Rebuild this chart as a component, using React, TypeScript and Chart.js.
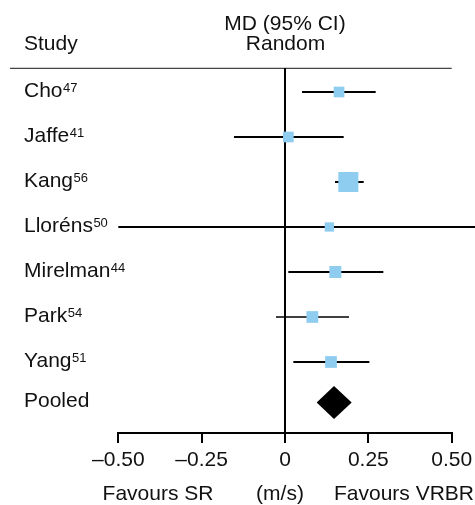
import React, { useEffect, useRef } from "react";
import { Chart, registerables } from "chart.js";

Chart.register(...registerables);

// ---- data ----
const studies = ["Cho", "Jaffe", "Kang", "Lloréns", "Mirelman", "Park", "Yang"];
const refs = ["47", "41", "56", "50", "44", "54", "51"];
const estimates = [0.162, 0.01, 0.19, 0.133, 0.151, 0.082, 0.138];
const lower = [0.051, -0.153, 0.15, -0.5, 0.01, -0.027, 0.025];
const upper = [0.272, 0.176, 0.236, 0.766, 0.295, 0.192, 0.253];
const weights = [10.1, 10.1, 35.3, 7.6, 12.7, 12.1, 12.1];
const pooledLabel = "Pooled";
const pooledEst = 0.147;
const pooledLower = 0.095;
const pooledUpper = 0.2;
const xTickValues = [-0.5, -0.25, 0, 0.25, 0.5];
const xTickLabels = ["–0.50", "–0.25", "0", "0.25", "0.50"];
const headerStudy = "Study";
const headerEffect1 = "MD (95% CI)";
const headerEffect2 = "Random";
const footLeft = "Favours SR";
const footMid = "(m/s)";
const footRight = "Favours VRBR";

// ---- styles ----
const FONT = "'Liberation Sans', Arial, Helvetica, sans-serif";
const TEXT = "#111";
const SQUARE = "#8fcdf0";
const POOLED_ROW = 6.9;
const ciWidths = [2, 2, 2, 2, 2, 1.4, 2];

const sideFor = (w: number) => Math.sqrt(w) * 3.37;

const forestPlugin = {
  id: "forest",
  beforeDatasetsDraw(chart: any) {
    const { ctx, chartArea, scales } = chart;
    const xs = scales.x;
    const ys = scales.y;
    ctx.save();
    // header separator
    ctx.strokeStyle = "#444";
    ctx.lineWidth = 1.3;
    ctx.beginPath();
    ctx.moveTo(10, chartArea.top + 0.3);
    ctx.lineTo(chartArea.right, chartArea.top + 0.3);
    ctx.stroke();
    // zero line
    const x0 = xs.getPixelForValue(0);
    ctx.strokeStyle = "#000";
    ctx.lineWidth = 2;
    ctx.beginPath();
    ctx.moveTo(x0, chartArea.top);
    ctx.lineTo(x0, chartArea.bottom);
    ctx.stroke();
    // CI lines
    studies.forEach((_, i) => {
      const y = ys.getPixelForValue(i);
      ctx.strokeStyle = "#000";
      ctx.lineWidth = ciWidths[i];
      ctx.beginPath();
      ctx.moveTo(xs.getPixelForValue(lower[i]), y);
      ctx.lineTo(xs.getPixelForValue(upper[i]), y);
      ctx.stroke();
    });
    // pooled diamond
    const py = ys.getPixelForValue(POOLED_ROW);
    const h = 16.5;
    ctx.fillStyle = "#000";
    ctx.beginPath();
    ctx.moveTo(xs.getPixelForValue(pooledLower), py);
    ctx.lineTo(xs.getPixelForValue(pooledEst), py - h);
    ctx.lineTo(xs.getPixelForValue(pooledUpper), py);
    ctx.lineTo(xs.getPixelForValue(pooledEst), py + h);
    ctx.closePath();
    ctx.fill();
    ctx.restore();
  },
  afterDraw(chart: any) {
    const { ctx, scales } = chart;
    const xs = scales.x;
    const ys = scales.y;
    const x0 = xs.getPixelForValue(0);
    ctx.save();
    ctx.fillStyle = TEXT;
    ctx.textBaseline = "alphabetic";
    ctx.font = `21px ${FONT}`;
    ctx.textAlign = "left";
    ctx.fillText(headerStudy, 24, 50);
    ctx.textAlign = "center";
    ctx.fillText(headerEffect1, x0, 30);
    ctx.fillText(headerEffect2, x0 + 0.5, 50);
    // study labels
    studies.forEach((name, i) => {
      const y = ys.getPixelForValue(i);
      ctx.font = `21px ${FONT}`;
      ctx.textAlign = "left";
      ctx.fillText(name, 24, y + 5);
      const w = ctx.measureText(name).width;
      ctx.font = `13px ${FONT}`;
      ctx.fillText(refs[i], 24 + w + 0.5, y);
    });
    ctx.font = `21px ${FONT}`;
    ctx.fillText(pooledLabel, 24, ys.getPixelForValue(POOLED_ROW) + 5);
    // footer
    ctx.textAlign = "center";
    ctx.fillText(footLeft, 158, 500);
    ctx.fillText(footMid, 280, 500);
    ctx.fillText(footRight, 404, 500);
    ctx.restore();
  },
};

export default function App() {
  const ref = useRef<HTMLCanvasElement>(null);
  useEffect(() => {
    if (!ref.current) return;
    const chart = new Chart(ref.current, {
      type: "scatter",
      data: {
        datasets: [
          {
            data: studies.map((_, i) => ({ x: estimates[i], y: i })),
            pointStyle: "rect",
            pointRadius: weights.map((w) => sideFor(w) / Math.SQRT2),
            pointHoverRadius: weights.map((w) => sideFor(w) / Math.SQRT2),
            backgroundColor: SQUARE,
            borderWidth: 0,
            clip: false as any,
          },
        ],
      },
      options: {
        animation: false,
        responsive: false,
        devicePixelRatio: 1,
        events: [],
        layout: { padding: { left: 118.3, right: 23.3, top: 68, bottom: 0 } },
        plugins: { legend: { display: false }, tooltip: { enabled: false } },
        scales: {
          x: {
            type: "linear",
            min: -0.5,
            max: 0.5,
            position: "bottom",
            afterBuildTicks: (s: any) => {
              s.ticks = xTickValues.map((v) => ({ value: v }));
            },
            afterFit: (s: any) => {
              s.height = 72;
              s.paddingLeft = 0;
              s.paddingRight = 0;
            },
            ticks: {
              padding: 4.5,
              color: TEXT,
              font: { family: FONT, size: 21 },
              maxRotation: 0,
              callback: (v: any) => {
                const i = xTickValues.indexOf(Number(v));
                return i >= 0 ? xTickLabels[i] : "";
              },
            },
            grid: {
              drawOnChartArea: false,
              drawTicks: true,
              tickLength: 10,
              color: "#000",
              lineWidth: 2,
            },
            border: { display: true, color: "#000", width: 2 },
          },
          y: {
            type: "linear",
            display: false,
            reverse: true,
            min: -0.533,
            max: 7.578,
          },
        },
      },
      plugins: [forestPlugin],
    });
    return () => chart.destroy();
  }, []);
  return (
    <div style={{ position: "absolute", left: 0, top: 0, width: 475, height: 505 }}>
      <canvas ref={ref} width={475} height={505} style={{ width: 475, height: 505 }} />
    </div>
  );
}
